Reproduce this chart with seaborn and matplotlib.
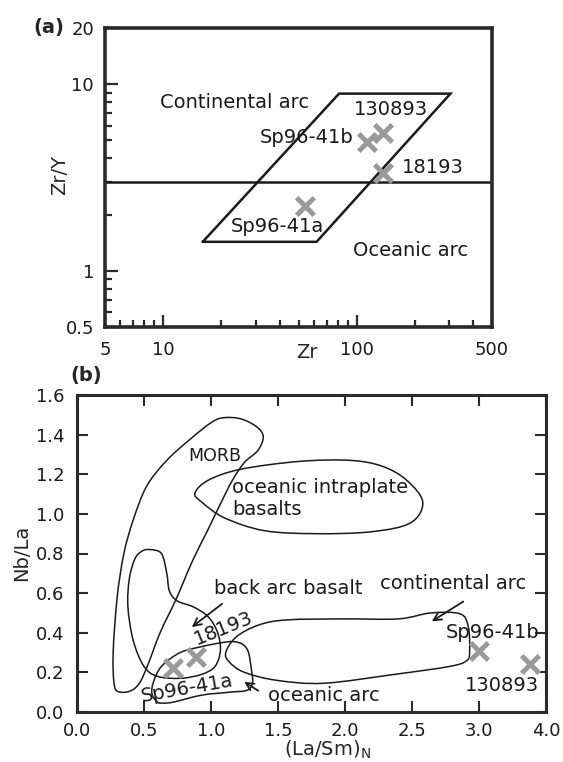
import numpy as np
import pandas as pd
import matplotlib
matplotlib.use("Agg")
import matplotlib.pyplot as plt
from matplotlib.path import Path
from matplotlib.patches import PathPatch
from matplotlib.ticker import FixedLocator, NullFormatter
import seaborn as sns

sns.set_style("ticks")
plt.rcParams["font.family"] = ["DejaVu Sans"]

# ---------------- panel (a): Zr/Y vs Zr ----------------
a_samples = ["130893", "Sp96-41b", "18193", "Sp96-41a"]
a_zr = [137, 113, 137, 54]
a_zry = [5.45, 4.9, 3.35, 2.22]
a_label_x = [150, 55, 248, 39]
a_label_y = [7.3, 5.15, 3.56, 1.72]

arc_field_zr = [16, 62, 305, 81, 16]
arc_field_zry = [1.43, 1.43, 8.9, 8.9, 1.43]
arc_boundary = 3.0

a_xticks = [5, 10, 100, 500]
a_yticks = [0.5, 1, 10, 20]

# ---------------- panel (b): Nb/La vs (La/Sm)N ----------------
b_samples = ["Sp96-41a", "18193", "Sp96-41b", "130893"]
b_lasm = [0.72, 0.89, 3.00, 3.38]
b_nbla = [0.22, 0.28, 0.31, 0.24]

b_xticks = [0.0, 0.5, 1.0, 1.5, 2.0, 2.5, 3.0, 3.5]
b_xticklabels = ["0.0", "0.5", "1.0", "1.5", "2.0", "2.5", "3.0", "4.0"]
b_yticks = [0.0, 0.2, 0.4, 0.6, 0.8, 1.0, 1.2, 1.4, 1.6]

morb = [(1.09, 1.485), (1.22, 1.48), (1.34, 1.44), (1.39, 1.39), (1.35, 1.32),
        (1.25, 1.26), (1.16, 1.17), (1.07, 1.05), (0.97, 0.91), (0.86, 0.76),
        (0.74, 0.57), (0.62, 0.40), (0.53, 0.24), (0.47, 0.15), (0.41, 0.11),
        (0.33, 0.10), (0.28, 0.13), (0.27, 0.30), (0.30, 0.58), (0.35, 0.80),
        (0.42, 0.97), (0.52, 1.14), (0.67, 1.27), (0.85, 1.38), (1.00, 1.46)]
intraplate = [(0.88, 1.105), (0.98, 1.17), (1.22, 1.225), (1.66, 1.265), (2.04, 1.27),
              (2.28, 1.24), (2.46, 1.17), (2.58, 1.06), (2.49, 0.955), (2.20, 0.91),
              (1.79, 0.90), (1.40, 0.915), (1.10, 0.98), (0.93, 1.06)]
back_arc = [(0.54, 0.82), (0.63, 0.80), (0.67, 0.70), (0.69, 0.61), (0.75, 0.56),
            (0.87, 0.53), (0.98, 0.48), (1.05, 0.40), (1.07, 0.31), (1.03, 0.23),
            (0.93, 0.19), (0.77, 0.17), (0.60, 0.18), (0.50, 0.23), (0.42, 0.36),
            (0.38, 0.53), (0.39, 0.67), (0.43, 0.77), (0.48, 0.81)]
oceanic_arc = [(0.60, 0.05), (0.56, 0.09), (0.57, 0.15), (0.63, 0.23), (0.77, 0.30),
               (0.93, 0.33), (1.08, 0.35), (1.17, 0.355), (1.24, 0.34), (1.28, 0.30),
               (1.30, 0.22), (1.31, 0.15), (1.27, 0.11), (1.14, 0.10), (0.93, 0.085),
               (0.72, 0.05), (0.64, 0.045)]
continental_arc = [(1.11, 0.30), (1.19, 0.38), (1.36, 0.44), (1.57, 0.465), (2.00, 0.47),
                   (2.40, 0.47), (2.64, 0.50), (2.86, 0.495), (2.92, 0.43), (2.93, 0.31),
                   (2.91, 0.26), (2.78, 0.23), (2.37, 0.19), (1.84, 0.145), (1.49, 0.16),
                   (1.25, 0.20), (1.14, 0.25)]

W, H = 563, 762
fig = plt.figure(figsize=(W / 100, H / 100), dpi=100)


def box(l, t, r, b):
    return [l / W, 1 - b / H, (r - l) / W, (b - t) / H]


SPINE = "#2a2a2a"
INK = "#1a1a1a"
CROSS = "#9a9a9a"
FS_TXT = 14
FS_TICK = 13
FS_AXIS = 14


def smooth_closed(pts):
    """Closed Catmull-Rom outline expressed as cubic Bezier segments."""
    P = np.asarray(pts, dtype=float)
    n = len(P)
    verts = [P[0]]
    codes = [Path.MOVETO]
    for i in range(n):
        p0, p1, p2, p3 = P[i - 1], P[i], P[(i + 1) % n], P[(i + 2) % n]
        verts += [p1 + (p2 - p0) / 6, p2 - (p3 - p1) / 6, p2]
        codes += [Path.CURVE4] * 3
    return Path(verts, codes)


# ---- (a) ----
ax1 = fig.add_axes(box(105, 28, 492, 327))
ax1.set_xscale("log")
ax1.set_yscale("log")
ax1.set_xlim(5, 500)
ax1.set_ylim(0.5, 20)

ax1.plot(arc_field_zr, arc_field_zry, color=INK, lw=1.8, solid_joinstyle="miter")
ax1.axhline(arc_boundary, color=INK, lw=1.8)

dfa = pd.DataFrame({"Zr": a_zr, "ZrY": a_zry, "sample": a_samples})
sns.scatterplot(data=dfa, x="Zr", y="ZrY", ax=ax1, marker="x", s=160,
                color=CROSS, linewidth=3.6, zorder=5, legend=False)

for name, lx, ly in zip(a_samples, a_label_x, a_label_y):
    ax1.text(lx, ly, name, fontsize=FS_TXT, ha="center", va="center", color=INK)
ax1.text(23.5, 7.93, "Continental arc", fontsize=FS_TXT, ha="center", va="center", color=INK)
ax1.text(190, 1.29, "Oceanic arc", fontsize=FS_TXT, ha="center", va="center", color=INK)

ax1.xaxis.set_major_locator(FixedLocator(a_xticks))
ax1.set_xticklabels([str(v) for v in a_xticks])
ax1.xaxis.set_minor_locator(FixedLocator([6, 7, 8, 9, 20, 30, 40, 50, 60, 70, 80, 90, 200, 300, 400]))
ax1.xaxis.set_minor_formatter(NullFormatter())
ax1.yaxis.set_major_locator(FixedLocator(a_yticks))
ax1.set_yticklabels(["0.5", "1", "10", "20"])
ax1.yaxis.set_minor_locator(FixedLocator([0.6, 0.7, 0.8, 0.9, 2, 3, 4, 5, 6, 7, 8, 9]))
ax1.yaxis.set_minor_formatter(NullFormatter())
ax1.tick_params(which="both", direction="in", color=SPINE, width=1.6, labelsize=FS_TICK,
                labelcolor=INK)
ax1.tick_params(which="major", length=9)
ax1.tick_params(which="minor", length=5)
ax1.tick_params(axis="x", which="both", pad=10)
ax1.tick_params(axis="y", which="both", pad=8)
for s in ax1.spines.values():
    s.set_linewidth(2.6)
    s.set_color(SPINE)
ax1.set_xlabel("")
ax1.set_ylabel("")

# ---- (b) ----
ax2 = fig.add_axes(box(77, 395, 546, 712))
ax2.set_xlim(0, 3.5)
ax2.set_ylim(0, 1.6)

for shape in (morb, intraplate, back_arc, oceanic_arc, continental_arc):
    ax2.add_patch(PathPatch(smooth_closed(shape), facecolor="none",
                            edgecolor=INK, lw=1.1))

dfb = pd.DataFrame({"LaSm": b_lasm, "NbLa": b_nbla, "sample": b_samples})
sns.scatterplot(data=dfb, x="LaSm", y="NbLa", ax=ax2, marker="x", s=160,
                color=CROSS, linewidth=3.6, zorder=5, legend=False)

tk = dict(fontsize=FS_TXT, color=INK)
ax2.text(1.03, 1.29, "MORB", ha="center", va="center", fontsize=12.5, color=INK)
ax2.text(1.16, 1.135, "oceanic intraplate", ha="left", va="center", **tk)
ax2.text(1.16, 1.02, "basalts", ha="left", va="center", **tk)
ax2.text(1.58, 0.625, "back arc basalt", ha="center", va="center", **tk)
ax2.text(2.81, 0.65, "continental arc", ha="center", va="center", **tk)
ax2.text(1.84, 0.085, "oceanic arc", ha="center", va="center", **tk)
ax2.text(1.09, 0.42, "18193", ha="center", va="center", rotation=22, **tk)
ax2.text(0.82, 0.12, "Sp96-41a", ha="center", va="center", rotation=10, **tk)
ax2.text(3.10, 0.40, "Sp96-41b", ha="center", va="center", **tk)
ax2.text(3.17, 0.135, "130893", ha="center", va="center", **tk)

arrow = dict(arrowstyle="->", color=INK, lw=1.3, mutation_scale=14)
ax2.annotate("", xy=(0.84, 0.42), xytext=(1.10, 0.555), arrowprops=arrow)
ax2.annotate("", xy=(2.63, 0.45), xytext=(2.90, 0.565), arrowprops=arrow)
ax2.annotate("", xy=(1.23, 0.16), xytext=(1.37, 0.10), arrowprops=arrow)

ax2.set_xticks(b_xticks)
ax2.set_xticklabels(b_xticklabels)
ax2.set_yticks(b_yticks)
ax2.set_yticklabels([f"{v:.1f}" for v in b_yticks])
ax2.tick_params(direction="in", length=8, width=1.5, color=SPINE, labelsize=FS_TICK,
                top=True, right=True, labelcolor=INK)
ax2.tick_params(axis="x", pad=7)
ax2.tick_params(axis="y", pad=9)
for s in ax2.spines.values():
    s.set_linewidth(2.2)
    s.set_color(SPINE)
ax2.set_xlabel("")
ax2.set_ylabel("")

# axis titles and panel letters
fig.text(60 / W, 1 - 175 / H, "Zr/Y", rotation=90, ha="center", va="center", fontsize=FS_AXIS)
fig.text(307 / W, 1 - 352 / H, "Zr", ha="center", va="center", fontsize=FS_AXIS)
fig.text(22 / W, 1 - 553 / H, "Nb/La", rotation=90, ha="center", va="center", fontsize=FS_AXIS)
fig.text(328 / W, 1 - 750 / H, r"(La/Sm)$_{\mathregular{N}}$", ha="center", va="center",
         fontsize=FS_AXIS)
fig.text(49 / W, 1 - 27 / H, "(a)", ha="center", va="center", fontsize=14, fontweight="bold")
fig.text(86 / W, 1 - 376 / H, "(b)", ha="center", va="center", fontsize=14, fontweight="bold")

fig.savefig("out.png", dpi=100)
